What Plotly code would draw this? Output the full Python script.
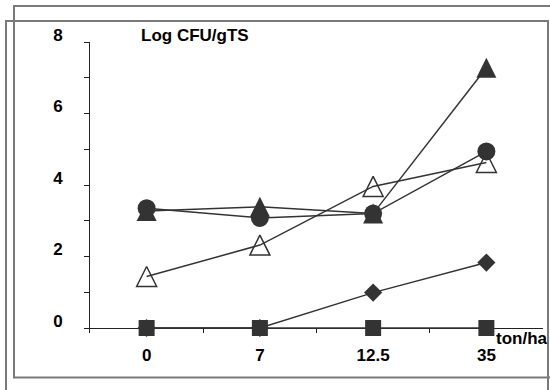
import plotly.graph_objects as go

# ---- data ----
categories = ["0", "7", "12.5", "35"]
diamond_vals = [0, 0, 0.99, 1.83]
square_vals = [0, 0, 0, 0]
open_tri_vals = [1.44, 2.32, 3.96, 4.63]
filled_tri_vals = [3.27, 3.39, 3.20, 7.28]
circle_vals = [3.35, 3.08, 3.20, 4.94]
y_tick_vals = [0, 1, 2, 3, 4, 5, 6, 7, 8]
y_tick_text = ["0", "", "2", "", "4", "", "6", "", "8"]
y_title = "Log CFU/gTS"
x_title = "ton/ha"

# ---- layout constants ----
W, H = 550, 390
L, R, T, B = 90, 7, 42, 57
plot_w = W - L - R
plot_h = H - T - B
y_lo, y_hi = -0.14, 8
px_per_unit = plot_h / (y_hi - y_lo)
tri_size = 20
tri_shift = (tri_size / 2) / px_per_unit  # arrow-up apex sits at the data point; shift so bbox is centred

def px_x(p):
    return (p - L) / plot_w

def px_y(p):
    return (H - B - p) / plot_h

dark = "#333333"
font = dict(family="Arial, Liberation Sans, sans-serif", size=17, color="black", weight="bold")

fig = go.Figure()

# diamond series
fig.add_trace(go.Scatter(x=categories, y=diamond_vals, mode="lines+markers",
                         line=dict(color=dark, width=1.5),
                         marker=dict(symbol="diamond", size=14, color=dark),
                         cliponaxis=False, showlegend=False))
# square series
fig.add_trace(go.Scatter(x=categories, y=square_vals, mode="lines+markers",
                         line=dict(color=dark, width=1.5),
                         marker=dict(symbol="square", size=16, color=dark),
                         cliponaxis=False, showlegend=False))
# open triangle line
fig.add_trace(go.Scatter(x=categories, y=open_tri_vals, mode="lines",
                         line=dict(color=dark, width=1.5),
                         cliponaxis=False, showlegend=False))
# filled triangle line
fig.add_trace(go.Scatter(x=categories, y=filled_tri_vals, mode="lines",
                         line=dict(color=dark, width=1.5),
                         cliponaxis=False, showlegend=False))
# circle series
fig.add_trace(go.Scatter(x=categories, y=circle_vals, mode="lines+markers",
                         line=dict(color=dark, width=1.5),
                         marker=dict(symbol="circle", size=18, color=dark),
                         cliponaxis=False, showlegend=False))
# triangle markers on shifted overlay axis
fig.add_trace(go.Scatter(x=categories, y=open_tri_vals, mode="markers", yaxis="y2",
                         marker=dict(symbol="arrow-up-open", size=tri_size, color=dark,
                                     line=dict(color=dark, width=1.5)),
                         cliponaxis=False, showlegend=False))
fig.add_trace(go.Scatter(x=categories, y=filled_tri_vals, mode="markers", yaxis="y2",
                         marker=dict(symbol="arrow-up", size=tri_size, color=dark,
                                     line=dict(width=0)),
                         cliponaxis=False, showlegend=False))

frame_col = "#7a7a7a"
shapes = [
    dict(type="rect", xref="paper", yref="paper",
         x0=px_x(14), x1=px_x(562), y0=px_y(377.5), y1=px_y(6),
         line=dict(color=frame_col, width=2)),
    dict(type="rect", xref="paper", yref="paper",
         x0=px_x(6), x1=px_x(548), y0=px_y(402), y1=px_y(21),
         line=dict(color=frame_col, width=2)),
]

fig.update_layout(
    width=W, height=H,
    margin=dict(l=L, r=R, t=T, b=B),
    paper_bgcolor="white", plot_bgcolor="white",
    showlegend=False,
    shapes=shapes,
    xaxis=dict(type="category", range=[-0.5, 3.5], showgrid=False, showline=False,
               zeroline=False, tickson="boundaries", ticks="inside", ticklen=5,
               tickcolor="#222222", tickwidth=1, tickfont=font, ticklabelstandoff=10),
    yaxis=dict(range=[y_lo, y_hi], showgrid=False, showline=True, linecolor="#222222",
               linewidth=1, zeroline=True, zerolinecolor="#222222", zerolinewidth=1,
               tickmode="array", tickvals=y_tick_vals, ticktext=y_tick_text,
               ticks="outside", ticklen=5, tickcolor="#222222", tickwidth=1,
               tickfont=font, ticklabelstandoff=18, ticklabelshift=-7),
    yaxis2=dict(range=[y_lo - tri_shift, y_hi - tri_shift], overlaying="y",
                visible=False, showgrid=False, zeroline=False),
    annotations=[
        dict(text=y_title, xref="paper", yref="paper", x=px_x(139), y=px_y(35),
             xanchor="left", yanchor="middle", showarrow=False, font=font),
        dict(text=x_title, xref="paper", yref="paper", x=px_x(550), y=px_y(338),
             xanchor="right", yanchor="middle", showarrow=False, font=font),
    ],
)

fig.write_html("out.html", config={"displayModeBar": False},
               post_script="document.body.style.margin='0';document.body.style.overflow='hidden';")
